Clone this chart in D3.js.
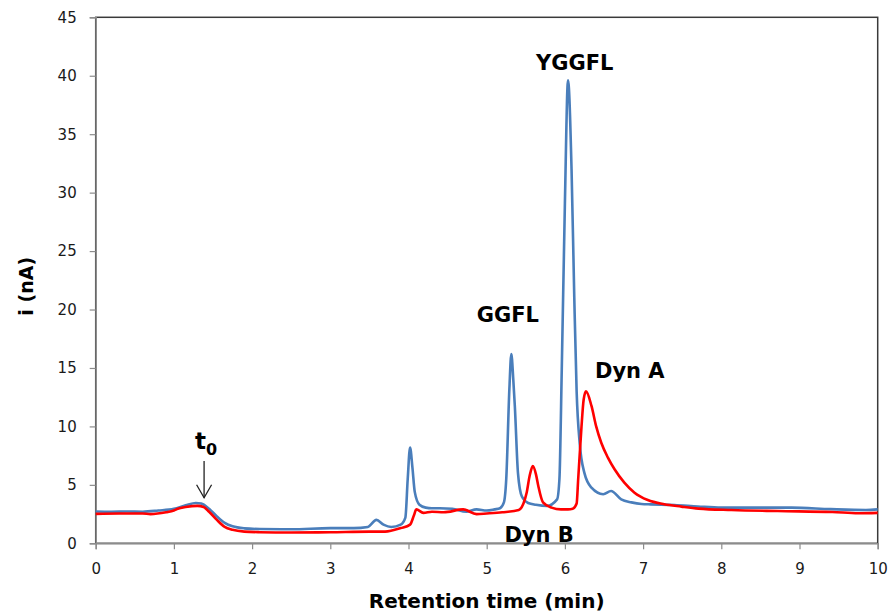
<!DOCTYPE html>
<html lang="en">
<head>
  <meta charset="UTF-8">
  <title>Chromatogram</title>
  <script src="https://d3js.org/d3.v7.min.js"></script>
  <style>
    body {
  margin: 0;
  background-color: #fff;
}

.tick text {
  font-family: "DejaVu Sans", Verdana, sans-serif;
  font-size: 15px;
  fill: #1a1a1a;
}

.axis-title, .peak-label {
  font-family: "DejaVu Sans", Verdana, sans-serif;
  font-weight: bold;
  fill: #000;
}
  </style>
</head>
<body>
  <div id="chart"></div>

  <script>
    // blue trace (time in min, current in nA)
    const blueTime = [0.00, 0.20, 0.40, 0.60, 0.80, 1.00, 1.15, 1.28, 1.35, 1.45, 1.55, 1.65, 1.75, 1.90, 2.10, 2.50,
      3.00, 3.30, 3.48, 3.59, 3.68, 3.78, 3.90, 3.96, 3.99, 4.02, 4.05, 4.08, 4.14, 4.22, 4.30, 4.40, 4.56, 4.74,
      4.87, 5.00, 5.10, 5.17, 5.22, 5.25, 5.29, 5.315, 5.34, 5.36, 5.40, 5.45, 5.53, 5.63, 5.77, 5.90, 5.93, 5.96,
      6.00, 6.04, 6.085, 6.12, 6.15, 6.19, 6.25, 6.34, 6.49, 6.59, 6.72, 6.85, 6.98, 7.10, 7.40, 7.70, 8.00,
      8.50, 8.90, 9.40, 9.85, 10.00];
    const blueCurrent = [2.72, 2.70, 2.72, 2.70, 2.80, 2.95, 3.25, 3.45, 3.40, 2.95, 2.30, 1.75, 1.45, 1.28, 1.22, 1.20,
      1.30, 1.30, 1.40, 2.00, 1.60, 1.40, 1.60, 2.20, 5.50, 8.20, 6.50, 4.40, 3.30, 3.05, 3.00, 3.00, 2.95, 2.70,
      2.90, 2.80, 2.90, 3.00, 3.50, 5.50, 13.2, 16.2, 14.0, 11.7, 6.00, 4.00, 3.45, 3.30, 3.20, 3.76, 5.50, 14.9,
      29.1, 39.6, 32.0, 21.0, 13.0, 8.50, 6.00, 4.76, 4.20, 4.47, 3.76, 3.50, 3.36, 3.33, 3.28, 3.15, 3.05,
      3.05, 3.05, 2.92, 2.85, 2.90];

    // red trace
    const redTime = [0.00, 0.30, 0.60, 0.70, 0.90, 1.00, 1.05, 1.15, 1.30, 1.38, 1.45, 1.55, 1.65, 1.75, 1.90, 2.10,
      2.50, 3.00, 3.50, 3.70, 3.90, 4.02, 4.07, 4.10, 4.19, 4.30, 4.45, 4.70, 4.87, 5.00, 5.20, 5.41, 5.47, 5.51,
      5.55, 5.59, 5.63, 5.66, 5.72, 5.83, 5.95, 6.04, 6.10, 6.15, 6.17, 6.21, 6.24, 6.27, 6.34, 6.40, 6.465, 6.55,
      6.635, 6.76, 6.89, 7.06, 7.27, 7.49, 7.71, 8.13, 8.72, 9.42, 9.75, 10.00];
    const redCurrent = [2.52, 2.55, 2.55, 2.50, 2.65, 2.80, 2.95, 3.10, 3.20, 3.10, 2.70, 2.00, 1.40, 1.15, 1.00, 0.95,
      0.92, 0.95, 1.00, 1.00, 1.30, 1.60, 2.40, 2.90, 2.60, 2.70, 2.65, 2.90, 2.50, 2.55, 2.65, 2.85, 3.40, 4.30,
      5.80, 6.60, 5.90, 4.90, 3.50, 3.05, 2.90, 2.90, 2.95, 3.40, 5.50, 9.75, 12.3, 13.0, 11.75, 10.0, 8.60, 7.33,
      6.33, 5.19, 4.33, 3.70, 3.34, 3.14, 2.97, 2.85, 2.76, 2.68, 2.57, 2.60];

    const xTicks = [0, 1, 2, 3, 4, 5, 6, 7, 8, 9, 10];
    const yTicks = [0, 5, 10, 15, 20, 25, 30, 35, 40, 45];

    // peak names, anchored in data units (text centre, baseline)
    const peakNames = ["YGGFL", "GGFL", "Dyn A", "Dyn B"];
    const peakNameTime = [6.125, 5.27, 6.83, 5.67];
    const peakNameCurrent = [40.5, 18.9, 14.15, 0.1];

    // dead time marker
    const t0Time = 1.386;
    const t0ArrowFrom = 7.05;
    const t0ArrowTo = 3.9;

    const width = 889;
    const height = 613;
    const margin = { top: 17.3, right: 11.3, bottom: 69.7, left: 95.7 };

    const svg = d3.select("#chart")
      .append("svg")
      .attr("width", width)
      .attr("height", height);

    const x = d3.scaleLinear()
      .domain([0, 10])
      .range([margin.left, width - margin.right]);

    const y = d3.scaleLinear()
      .domain([0, 45])
      .range([height - margin.bottom, margin.top]);

    // plot frame (top + right show dark)
    svg.append("rect")
      .attr("x", x(0))
      .attr("y", y(45))
      .attr("width", x(10) - x(0))
      .attr("height", y(0) - y(45))
      .attr("fill", "none")
      .attr("stroke", "#3a3a3a")
      .attr("stroke-width", 1.5);

    const xAxis = svg.append("g")
      .attr("transform", `translate(0,${y(0)})`)
      .call(d3.axisBottom(x).tickValues(xTicks).tickFormat(d3.format("d")).tickSize(6).tickPadding(14));

    const yAxis = svg.append("g")
      .attr("transform", `translate(${x(0)},0)`)
      .call(d3.axisLeft(y).tickValues(yTicks).tickFormat(d3.format("d")).tickSize(6).tickPadding(13));

    [xAxis, yAxis].forEach(a => {
      a.select(".domain").attr("stroke", "#8c8c8c").attr("stroke-width", 1.5);
      a.selectAll(".tick line").attr("stroke", "#8c8c8c").attr("stroke-width", 1.2);
      a.selectAll(".tick text").attr("font-family", null).attr("font-size", null).attr("fill", null);
    });

    const blueData = blueTime.map((t, i) => [t, blueCurrent[i]]);
    const redData = redTime.map((t, i) => [t, redCurrent[i]]);

    const line = d3.line()
      .x(d => x(d[0]))
      .y(d => y(d[1]))
      .curve(d3.curveMonotoneX);

    svg.append("path")
      .datum(blueData)
      .attr("fill", "none")
      .attr("stroke", "#4a7ebb")
      .attr("stroke-width", 2.6)
      .attr("stroke-linejoin", "round")
      .attr("d", line);

    svg.append("path")
      .datum(redData)
      .attr("fill", "none")
      .attr("stroke", "#ff0000")
      .attr("stroke-width", 2.6)
      .attr("stroke-linejoin", "round")
      .attr("d", line);

    peakNames.forEach((name, i) => {
      svg.append("text")
        .attr("class", "peak-label")
        .attr("x", x(peakNameTime[i]))
        .attr("y", y(peakNameCurrent[i]))
        .attr("text-anchor", "middle")
        .attr("font-size", 21)
        .text(name);
    });

    // t0 label + arrow
    const t0Label = svg.append("text")
      .attr("class", "peak-label")
      .attr("x", x(t0Time) - 9)
      .attr("y", y(t0ArrowFrom) - 12);
    t0Label.append("tspan").attr("font-size", 23).text("t");
    t0Label.append("tspan").attr("font-size", 16).attr("dy", 6).text("0");

    svg.append("line")
      .attr("x1", x(t0Time))
      .attr("x2", x(t0Time))
      .attr("y1", y(t0ArrowFrom))
      .attr("y2", y(t0ArrowTo))
      .attr("stroke", "#222")
      .attr("stroke-width", 1.3);

    svg.append("path")
      .attr("d", `M${x(t0Time) - 7.5},${y(t0ArrowTo) - 13} L${x(t0Time)},${y(t0ArrowTo)} L${x(t0Time) + 7.5},${y(t0ArrowTo) - 13}`)
      .attr("fill", "none")
      .attr("stroke", "#222")
      .attr("stroke-width", 1.3);

    svg.append("text")
      .attr("class", "axis-title")
      .attr("x", (x(0) + x(10)) / 2)
      .attr("y", 608)
      .attr("text-anchor", "middle")
      .attr("font-size", 20)
      .text("Retention time (min)");

    svg.append("text")
      .attr("class", "axis-title")
      .attr("transform", `translate(33,${(y(0) + y(45)) / 2 + 6}) rotate(-90)`)
      .attr("text-anchor", "middle")
      .attr("font-size", 19)
      .text("i (nA)");
  </script>
</body>
</html>
